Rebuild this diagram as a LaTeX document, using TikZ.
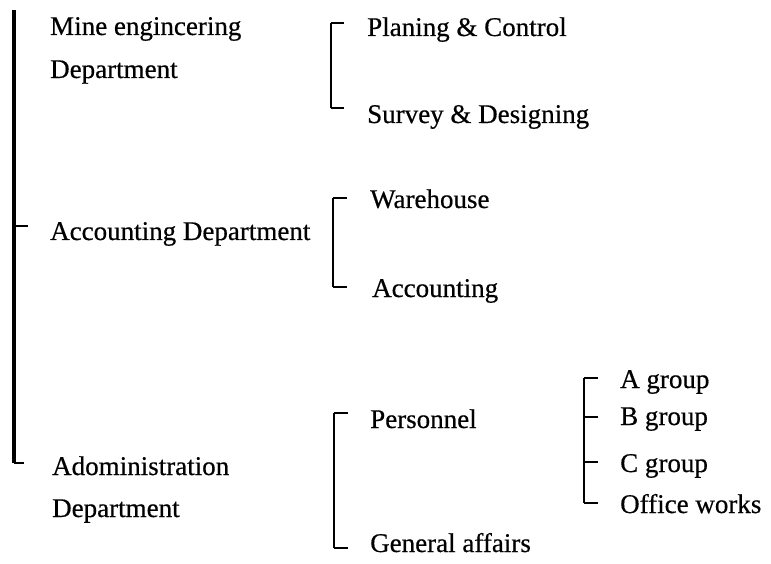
\documentclass[tikz,border=0pt]{standalone}
\usepackage{fontspec}
\setmainfont{Liberation Serif}[FakeBold=0.5]
\usetikzlibrary{calc}
\begin{document}
\begin{tikzpicture}[x=1pt,y=-1pt,
  lbl/.style={anchor=base west, inner sep=0pt, font=\fontsize{27}{30}\selectfont},
  mainspine/.style={line width=3.4pt},
  spine/.style={line width=2.6pt},
  tick/.style={line width=1.4pt}]
\useasboundingbox (0,0) rectangle (771,564);

% level 1
\node[lbl] (mine)  at (50,35)  {Mine engincering};
\node[lbl] (mined) at (50,78)  {Department};
\node[lbl] (acc)   at (50,240) {Accounting Department};
\node[lbl] (adm)   at (52,475) {Adoministration};
\node[lbl] (admd)  at (52,517) {Department};

% level 2
\node[lbl] (pc)  at (367,36)  {Planing \& Control};
\node[lbl] (sd)  at (367,123) {Survey \& Designing};
\node[lbl] (wh)  at (370,208) {Warehouse};
\node[lbl] (ac)  at (372,297) {Accounting};
\node[lbl] (per) at (370,428) {Personnel};
\node[lbl] (ga)  at (370,552) {General affairs};

% level 3
\node[lbl] (ga1) at (620,388) {A group};
\node[lbl] (gb)  at (620,425) {B group};
\node[lbl] (gc)  at (620,472) {C group};
\node[lbl] (ow)  at (620,513) {Office works};

% spine coordinates
\coordinate (m0) at (14,10);
\coordinate (m1) at (14,226);
\coordinate (m2) at (14,463);
\coordinate (a0) at (331,23);
\coordinate (a1) at (331,108);
\coordinate (b0) at (333,198);
\coordinate (b1) at (333,287);
\coordinate (c0) at (334,413);
\coordinate (c1) at (334,548);
\coordinate (d0) at (584,378);
\coordinate (d1) at (584,417);
\coordinate (d2) at (584,462);
\coordinate (d3) at (584,503);

% main spine
\draw[mainspine] (m0) -- (m2);
\draw[tick, shorten >=22pt] (m1) -- (m1 -| acc.west);
\draw[tick, shorten >=28pt] (m2) -- (m2 -| adm.west);

% bracket 1
\draw[spine] (a0) -- (a1);
\draw[tick, shorten >=23pt] (a0) -- (a0 -| pc.west);
\draw[tick, shorten >=23pt] (a1) -- (a1 -| sd.west);

% bracket 2
\draw[spine] (b0) -- (b1);
\draw[tick, shorten >=23pt] (b0) -- (b0 -| wh.west);
\draw[tick, shorten >=25pt] (b1) -- (b1 -| ac.west);

% bracket 3
\draw[spine] (c0) -- (c1);
\draw[tick, shorten >=22pt] (c0) -- (c0 -| per.west);
\draw[tick, shorten >=22pt] (c1) -- (c1 -| ga.west);

% bracket 4
\draw[spine] (d0) -- (d3);
\draw[tick, shorten >=22pt] (d0) -- (d0 -| ga1.west);
\draw[tick, shorten >=22pt] (d1) -- (d1 -| gb.west);
\draw[tick, shorten >=22pt] (d2) -- (d2 -| gc.west);
\draw[tick, shorten >=22pt] (d3) -- (d3 -| ow.west);
\end{tikzpicture}
\end{document}
